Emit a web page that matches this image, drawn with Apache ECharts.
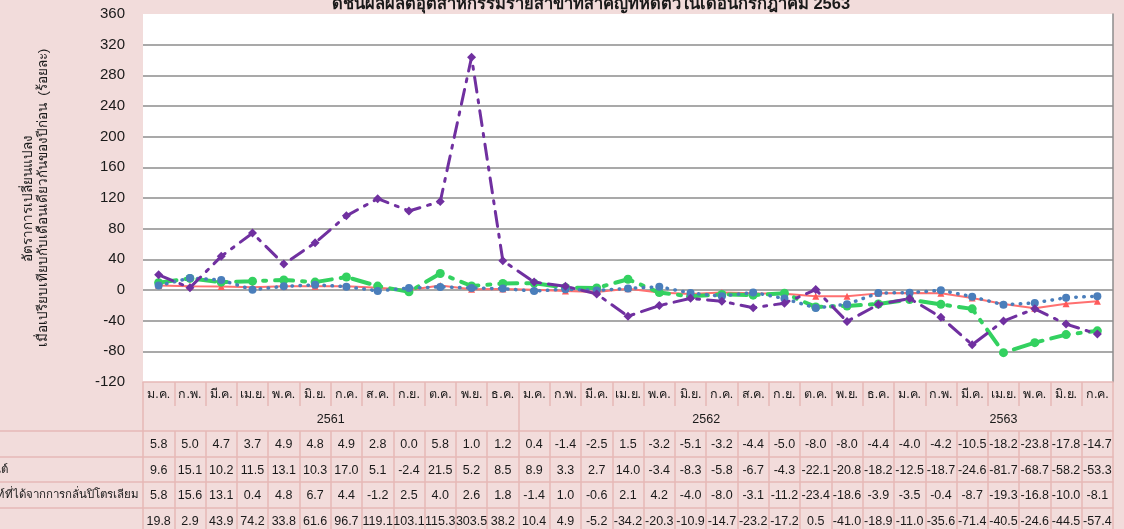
<!DOCTYPE html>
<html>
<head>
<meta charset="utf-8">
<script src="https://cdn.jsdelivr.net/npm/echarts@6/dist/echarts.min.js"></script>
<style>
html,body{margin:0;padding:0;background:#f2dcdb;}
#chart{width:1124px;height:529px;}
</style>
</head>
<body>
<div id="chart"></div>
<script>
// ---- data ----
const months = ['ม.ค.','ก.พ.','มี.ค.','เม.ย.','พ.ค.','มิ.ย.','ก.ค.','ส.ค.','ก.ย.','ต.ค.','พ.ย.','ธ.ค.',
                'ม.ค.','ก.พ.','มี.ค.','เม.ย.','พ.ค.','มิ.ย.','ก.ค.','ส.ค.','ก.ย.','ต.ค.','พ.ย.','ธ.ค.',
                'ม.ค.','ก.พ.','มี.ค.','เม.ย.','พ.ค.','มิ.ย.','ก.ค.'];
const years = ['2561','2562','2563'];
const yearMonthCounts = [12, 12, 7];
const seriesNames = ['MPI','ยานยนต์','ผลิตภัณฑ์ที่ได้จากการกลั่นปิโตรเลียม','น้ำตาล'];
const row1 = [5.8,5.0,4.7,3.7,4.9,4.8,4.9,2.8,0.0,5.8,1.0,1.2,
              0.4,-1.4,-2.5,1.5,-3.2,-5.1,-3.2,-4.4,-5.0,-8.0,-8.0,-4.4,
              -4.0,-4.2,-10.5,-18.2,-23.8,-17.8,-14.7];
const row2 = [9.6,15.1,10.2,11.5,13.1,10.3,17.0,5.1,-2.4,21.5,5.2,8.5,
              8.9,3.3,2.7,14.0,-3.4,-8.3,-5.8,-6.7,-4.3,-22.1,-20.8,-18.2,
              -12.5,-18.7,-24.6,-81.7,-68.7,-58.2,-53.3];
const row3 = [5.8,15.6,13.1,0.4,4.8,6.7,4.4,-1.2,2.5,4.0,2.6,1.8,
              -1.4,1.0,-0.6,2.1,4.2,-4.0,-8.0,-3.1,-11.2,-23.4,-18.6,-3.9,
              -3.5,-0.4,-8.7,-19.3,-16.8,-10.0,-8.1];
const row4 = [19.8,2.9,43.9,74.2,33.8,61.6,96.7,119.1,103.1,115.3,303.5,38.2,
              10.4,4.9,-5.2,-34.2,-20.3,-10.9,-14.7,-23.2,-17.2,0.5,-41.0,-18.9,
              -11.0,-35.6,-71.4,-40.5,-24.6,-44.5,-57.4];
const yMin = -120, yMax = 360, yStep = 40;
const titleText = 'ดัชนีผลผลิตอุตสาหกรรมรายสาขาที่สำคัญที่หดตัวในเดือนกรกฎาคม 2563';
const yName = 'อัตราการเปลี่ยนแปลง\nเมื่อเปรียบเทียบกับเดือนเดียวกันของปีก่อน  (ร้อยละ)';

// ---- styling ----
const FONT = 'Tahoma, "Liberation Sans", "Noto Sans", sans-serif';
const PINK_LINE = '#e6b8b7';
const TXT = '#1a1a1a';
const rows = [row1, row2, row3, row4];
const N = months.length;
const idx = months.map((_, i) => String(i));

// year axis: half-month positions (boundaryGap false)
const halfCount = N * 2 + 1;
const yearTicks = [0];
const yearLabelPos = {};
let acc = 0;
yearMonthCounts.forEach((c, k) => {
  yearLabelPos[acc * 2 + c] = years[k];
  acc += c;
  yearTicks.push(acc * 2);
});
const halfIdx = Array.from({length: halfCount}, (_, i) => String(i));

const rowOffsets = [49, 75, 100, 126];
const rowTickLen = [26, 25, 26, 30];

const xAxes = [
  {
    type: 'category', data: months, gridIndex: 0, position: 'bottom', offset: 0,
    boundaryGap: true,
    axisLine: {show: true, onZero: false, lineStyle: {color: PINK_LINE, width: 1.5}},
    axisTick: {show: true, interval: 0, length: 24, lineStyle: {color: PINK_LINE, width: 1.5}},
    axisLabel: {interval: 0, margin: 6, fontSize: 12.5, color: TXT, fontFamily: FONT},
    z: 10
  },
  {
    type: 'category', data: halfIdx, gridIndex: 0, position: 'bottom', offset: 24,
    boundaryGap: false,
    axisLine: {show: false, onZero: false},
    axisTick: {show: true, length: 25, interval: (i) => yearTicks.indexOf(i) >= 0,
               lineStyle: {color: PINK_LINE, width: 1.5}},
    axisLabel: {interval: 0, margin: 7, fontSize: 12.5, color: TXT, fontFamily: FONT,
                formatter: (v, i) => yearLabelPos[i] || '', showMinLabel: true, showMaxLabel: true},
    z: 10
  }
];
rows.forEach((r, k) => {
  xAxes.push({
    type: 'category', data: idx, gridIndex: 0, position: 'bottom', offset: rowOffsets[k],
    boundaryGap: true,
    axisLine: {show: true, onZero: false, lineStyle: {color: PINK_LINE, width: 1.5}},
    axisTick: {show: true, interval: 0, length: rowTickLen[k], lineStyle: {color: PINK_LINE, width: 1.5}},
    axisLabel: {interval: 0, margin: 7, fontSize: 12.5, color: TXT, fontFamily: FONT,
                formatter: (v, i) => r[i].toFixed(1)},
    z: 10
  });
});

const splitColors = [];
for (let v = yMin; v <= yMax; v += yStep) {
  splitColors.push((v === yMin || v === yMax) ? 'rgba(0,0,0,0)' : '#8c8c8c');
}

const chart = echarts.init(document.getElementById('chart'), null, {renderer: 'canvas'});

// row label column (labels are wider than the visible column, clipped at the left edge)
const graphics = [
  {type: 'text', x: 591, y: 4, silent: true,
   style: {text: titleText, font: 'bold 16.5px ' + FONT, fill: TXT, align: 'center', verticalAlign: 'middle'}}
];
const lineYs = [431, 457, 482, 508];
lineYs.forEach(yy => graphics.push({type: 'line', silent: true,
  shape: {x1: 0, y1: yy, x2: 143, y2: yy}, style: {stroke: PINK_LINE, lineWidth: 1.5}}));
const labelRightX = [-20, 8, 139, -10];
seriesNames.forEach((nm, k) => graphics.push({type: 'text', silent: true, x: labelRightX[k], y: lineYs[k] + 13,
  style: {text: nm, font: '11.5px ' + FONT, fill: TXT, align: 'right', verticalAlign: 'middle'}}));

const option = {
  backgroundColor: '#f2dcdb',
  animation: false,
  grid: {left: 143, right: 11, top: 14, bottom: 147, show: true, backgroundColor: '#ffffff', borderWidth: 0},
  xAxis: xAxes,
  yAxis: [
    {
      type: 'value', min: yMin, max: yMax, interval: yStep,
      name: yName, nameLocation: 'middle', nameRotate: 90, nameGap: 92,
      nameTextStyle: {fontSize: 13.5, color: TXT, fontFamily: FONT, lineHeight: 15},
      axisLine: {show: false}, axisTick: {show: false},
      axisLabel: {fontSize: 15, color: TXT, fontFamily: FONT, margin: 18},
      splitLine: {show: true, lineStyle: {color: splitColors, width: 1.5}}
    },
    {
      type: 'value', min: yMin, max: yMax, interval: yStep, position: 'right',
      axisLine: {show: true, lineStyle: {color: '#8c8c8c', width: 1.5}},
      axisTick: {show: false}, axisLabel: {show: false}, splitLine: {show: false}
    }
  ],
  series: [
    {type: 'line', name: seriesNames[0], data: row1, xAxisIndex: 0, yAxisIndex: 0,
     symbol: 'triangle', symbolSize: 7, z: 3,
     lineStyle: {color: '#ff7070', width: 2}, itemStyle: {color: '#ff5a5a'}},
    {type: 'line', name: seriesNames[1], data: row2, xAxisIndex: 0, yAxisIndex: 0,
     symbol: 'circle', symbolSize: 9, z: 4,
     lineStyle: {color: '#33d160', width: 4, type: [18, 9, 3, 9], cap: 'round'}, itemStyle: {color: '#33d160'}},
    {type: 'line', name: seriesNames[2], data: row3, xAxisIndex: 0, yAxisIndex: 0,
     symbol: 'circle', symbolSize: 8, z: 5,
     lineStyle: {color: '#4a7ebb', width: 3.5, type: [0.5, 7.5], cap: 'round'}, itemStyle: {color: '#4a7ebb'}},
    {type: 'line', name: seriesNames[3], data: row4, xAxisIndex: 0, yAxisIndex: 0,
     symbol: 'diamond', symbolSize: 9, z: 6,
     lineStyle: {color: '#7030a0', width: 3, type: [15, 8, 3, 8], cap: 'round'}, itemStyle: {color: '#7030a0'}}
  ],
  graphic: graphics
};
chart.setOption(option);
</script>
</body>
</html>
